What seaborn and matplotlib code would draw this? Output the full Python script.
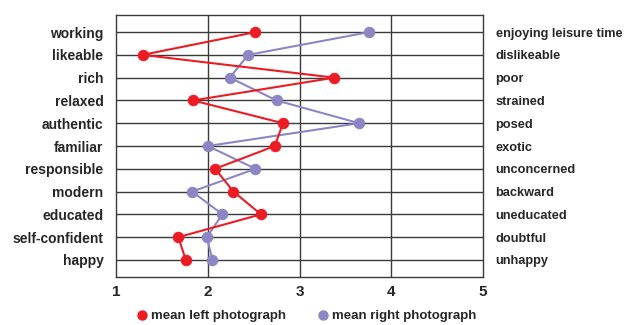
import matplotlib
matplotlib.use("Agg")
import matplotlib.pyplot as plt
import seaborn as sns
import numpy as np
from matplotlib.lines import Line2D

left_terms = ["working", "likeable", "rich", "relaxed", "authentic", "familiar",
              "responsible", "modern", "educated", "self-confident", "happy"]
right_terms = ["enjoying leisure time", "dislikeable", "poor", "strained", "posed", "exotic",
               "unconcerned", "backward", "uneducated", "doubtful", "unhappy"]
mean_left = [2.52, 1.29, 3.38, 1.84, 2.82, 2.73, 2.08, 2.28, 2.58, 1.68, 1.76]
mean_right = [3.76, 2.44, 2.24, 2.75, 3.65, 2.00, 2.52, 1.83, 2.16, 1.99, 2.05]

red = "#ec1c24"
purple = "#8c87c4"
grid_col = "#3a3a3a"

sns.set_style("white")
plt.rcParams['font.family'] = ['Liberation Sans', 'DejaVu Sans']
plt.rcParams['font.weight'] = 'bold'

fig = plt.figure(figsize=(6.43, 3.25), dpi=100)
ax = fig.add_axes([0.1804, 0.1477, 0.5708, 0.8061])

rows = np.arange(len(left_terms))
sns.lineplot(x=mean_left, y=rows, sort=False, estimator=None, color=red, lw=1.5,
             marker="o", markersize=7.5, markeredgecolor=red, ax=ax, zorder=4)
sns.lineplot(x=mean_right, y=rows, sort=False, estimator=None, color=purple, lw=1.5,
             marker="o", markersize=7.5, markeredgecolor=purple, ax=ax, zorder=3)

ax.set_xlim(1, 5)
ax.set_ylim(len(rows) - 0.25, -0.75)
ax.set_xticks([1, 2, 3, 4, 5])
ax.set_yticks(rows)
ax.set_yticklabels(left_terms, fontsize=10, fontweight='bold')
ax.set_xticklabels(["1", "2", "3", "4", "5"], fontsize=11, fontweight='bold')
for x in [2, 3, 4]:
    ax.axvline(x, color=grid_col, lw=1, zorder=1)
for r in rows:
    ax.axhline(r, color=grid_col, lw=1, zorder=1)
for s in ax.spines.values():
    s.set_color(grid_col)
    s.set_linewidth(1)
ax.tick_params(axis='y', length=0, pad=9)
ax.tick_params(axis='x', length=3, color=grid_col, pad=3)
ax.set_xlabel("")
ax.set_ylabel("")

ax2 = ax.twinx()
ax2.set_ylim(ax.get_ylim())
ax2.set_yticks(rows)
ax2.set_yticklabels(right_terms, fontsize=9.2, fontweight='bold')
ax2.tick_params(axis='y', length=0, pad=9)
for s in ax2.spines.values():
    s.set_visible(False)

handles = [Line2D([], [], ls='none', marker='o', color=red, markersize=6.5),
           Line2D([], [], ls='none', marker='o', color=purple, markersize=6.5)]
fig.legend(handles, ["mean left photograph", "mean right photograph"], loc='center',
           bbox_to_anchor=(0.475, 0.027), ncol=2, frameon=False,
           handletextpad=0.1, columnspacing=2.2, handlelength=1.2,
           prop={'weight': 'bold', 'size': 9.5})

fig.savefig("out.png", dpi=100)
